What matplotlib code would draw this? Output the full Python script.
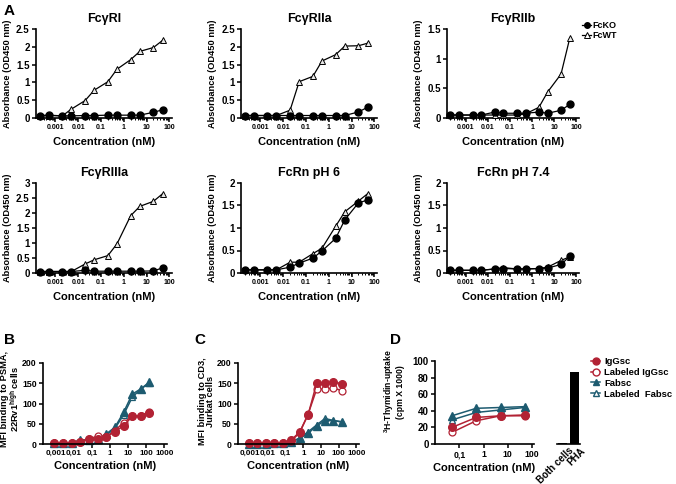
import numpy as np
import matplotlib
matplotlib.use("Agg")
import matplotlib.pyplot as plt
from matplotlib.ticker import LogLocator, NullFormatter, FixedLocator
from matplotlib.lines import Line2D
from matplotlib.transforms import ScaledTranslation

plt.rcParams['font.family'] = ['Liberation Sans', 'DejaVu Sans']
plt.rcParams['font.weight'] = 'bold'
plt.rcParams['axes.labelweight'] = 'bold'
plt.rcParams['mathtext.default'] = 'regular'

# ---- panel A data (OD450) ----
conc_a = [0.0002, 0.0005, 0.002, 0.005, 0.02, 0.05, 0.2, 0.5, 2, 5, 20, 50]
fcgr1_ko = [0.07, 0.08, 0.06, 0.06, 0.07, 0.07, 0.08, 0.08, 0.08, 0.08, 0.16, 0.23]
fcgr1_wt = [0.06, 0.07, 0.06, 0.25, 0.49, 0.78, 1.02, 1.37, 1.64, 1.87, 1.98, 2.18]
fcgr2a_ko = [0.07, 0.07, 0.07, 0.07, 0.07, 0.07, 0.07, 0.07, 0.07, 0.07, 0.17, 0.30]
fcgr2a_wt = [0.07, 0.07, 0.07, 0.07, 0.22, 1.02, 1.17, 1.60, 1.78, 2.02, 2.03, 2.10]
fcgr2b_ko = [0.05, 0.05, 0.05, 0.05, 0.10, 0.08, 0.08, 0.08, 0.10, 0.08, 0.13, 0.23]
fcgr2b_wt = [0.05, 0.05, 0.05, 0.05, 0.05, 0.05, 0.05, 0.07, 0.18, 0.44, 0.74, 1.35]
fcgr3a_ko = [0.05, 0.05, 0.05, 0.05, 0.09, 0.06, 0.06, 0.06, 0.06, 0.06, 0.07, 0.17]
fcgr3a_wt = [0.05, 0.05, 0.05, 0.05, 0.30, 0.44, 0.58, 0.97, 1.91, 2.22, 2.39, 2.64]
fcrn6_ko = [0.07, 0.07, 0.07, 0.07, 0.13, 0.22, 0.33, 0.49, 0.77, 1.18, 1.56, 1.62]
fcrn6_wt = [0.07, 0.07, 0.07, 0.07, 0.24, 0.24, 0.43, 0.55, 1.04, 1.36, 1.60, 1.76]
fcrn74_ko = [0.06, 0.06, 0.06, 0.06, 0.09, 0.10, 0.09, 0.09, 0.10, 0.11, 0.19, 0.37]
fcrn74_wt = [0.06, 0.06, 0.06, 0.06, 0.09, 0.12, 0.09, 0.09, 0.10, 0.13, 0.28, 0.36]

# ---- panels B, C (MFI) ----
conc_bc = [0.00085, 0.0025, 0.0076, 0.023, 0.069, 0.21, 0.62, 1.85, 5.6, 16.7, 50, 150]
psma_igg = [3, 3, 3, 6, 12, 12, 18, 30, 45, 68, 70, 76]
psma_igg_lab = [3, 3, 3, 6, 12, 20, 18, 33, 53, 68, 70, 80]
psma_fab = [3, 3, 3, 10, 10, 12, 25, 41, 78, 123, 136, 153]
psma_fab_lab = [3, 3, 3, 8, 10, 12, 22, 38, 72, 115, 136, 150]
cd3_igg = [2, 2, 2, 3, 3, 10, 30, 72, 150, 150, 153, 149]
cd3_igg_lab = [2, 2, 2, 3, 3, 8, 28, 74, 135, 136, 138, 132]
cd3_fab = [1, 1, 1, 2, 2, 5, 14, 26, 45, 57, 58, 54]
cd3_fab_lab = [1, 1, 1, 2, 2, 5, 15, 30, 47, 63, 58, 55]

# ---- panel D (thymidin uptake) ----
conc_d = [0.05, 0.5, 5, 50]
thy_igg = [20, 32, 34, 35]
thy_igg_lab = [14, 28, 34, 34]
thy_fab = [34, 43, 44, 45]
thy_fab_lab = [29, 38, 41, 44]
bar_labels = ['Both cells', 'PHA']
bar_values = [1, 87]

RED = '#b22234'
TEAL = '#1d5b70'

W, H = 676, 484
fig = plt.figure(figsize=(W / 100, H / 100), dpi=100)


def px_axes(x0, x1, ytop, ybot):
    return fig.add_axes([x0 / W, 1 - ybot / H, (x1 - x0) / W, (ybot - ytop) / H])


def style(ax, xfs, yfs):
    for s in ['top', 'right']:
        ax.spines[s].set_visible(False)
    for s in ['left', 'bottom']:
        ax.spines[s].set_linewidth(1.2)
    ax.tick_params(which='major', direction='out', length=3, width=1.1)
    ax.tick_params(which='minor', direction='out', length=1.6, width=0.7)
    ax.tick_params(axis='x', labelsize=xfs, pad=1.5)
    ax.tick_params(axis='y', labelsize=yfs, pad=1.5)


def logx(ax, lo, hi, ticks, labels):
    ax.set_xscale('log')
    ax.set_xlim(lo, hi)
    ax.xaxis.set_major_locator(FixedLocator(ticks))
    ax.set_xticklabels(labels)
    ax.xaxis.set_minor_locator(LogLocator(base=10, subs=np.arange(2, 10)))
    ax.xaxis.set_minor_formatter(NullFormatter())


a_panels = [
    ('FcγRI', fcgr1_ko, fcgr1_wt, 2.5, (36, 172, 29, 118)),
    ('FcγRIIa', fcgr2a_ko, fcgr2a_wt, 2.5, (241, 377, 29, 118)),
    ('FcγRIIb', fcgr2b_ko, fcgr2b_wt, 1.5, (447, 579, 29, 118)),
    ('FcγRIIIa', fcgr3a_ko, fcgr3a_wt, 3.0, (36, 172, 183, 273)),
    ('FcRn pH 6', fcrn6_ko, fcrn6_wt, 2.0, (241, 377, 183, 273)),
    ('FcRn pH 7.4', fcrn74_ko, fcrn74_wt, 2.0, (447, 579, 183, 273)),
]
a_ticks = [0.001, 0.01, 0.1, 1, 10, 100]
a_ticklabels = ['0.001', '0.01', '0.1', '1', '10', '100']

for i, (title, ko, wt, ymax, box) in enumerate(a_panels):
    ax = px_axes(*box)
    style(ax, 5, 7)
    ax.plot(conc_a, wt, color='black', lw=0.9, marker='^', ms=5, mfc='#e8e8e8',
            mec='black', mew=0.7, clip_on=False, zorder=3)
    ax.plot(conc_a, ko, color='black', lw=0.9, marker='o', ms=5, mfc='black',
            mec='black', clip_on=False, zorder=4)
    logx(ax, 1.4e-4, 130, a_ticks, a_ticklabels)
    ax.set_ylim(0, ymax)
    yt = np.arange(0, ymax + 0.01, 0.5)
    ax.set_yticks(yt)
    ax.set_yticklabels(['%g' % v for v in yt])
    ax.set_title(title, fontsize=9, fontweight='bold', pad=5)
    ax.set_xlabel('Concentration (nM)', fontsize=8, labelpad=4)
    ax.set_ylabel('Absorbance (OD450 nm)', fontsize=6.7, labelpad=3)
    if i == 2:
        h = [Line2D([], [], color='black', lw=0.9, marker='o', ms=4, mfc='black'),
             Line2D([], [], color='black', lw=0.9, marker='^', ms=4, mfc='white', mec='black', mew=0.7)]
        fig.legend(h, ['FcKO', 'FcWT'], loc='upper left', bbox_to_anchor=(582 / W, 1 - 21 / H),
                   frameon=False, fontsize=6.5, handlelength=1.0, handletextpad=0.2,
                   labelspacing=0.1, borderaxespad=0, borderpad=0)

bc_ticks = [0.001, 0.01, 0.1, 1, 10, 100, 1000]
bc_ticklabels = ['0,001', '0,01', '0,1', '1', '10', '100', '1000']


def mfi_panel(box, igg, igg_lab, fab, fab_lab, ylabel, label_x, label_y):
    ax = px_axes(*box)
    style(ax, 5.8, 6.3)
    ax.plot(conc_bc, fab_lab, color=TEAL, lw=1.1, marker='^', ms=5, mfc='white', mec=TEAL, mew=0.9, clip_on=False)
    ax.plot(conc_bc, fab, color=TEAL, lw=1.1, marker='^', ms=5.5, mfc=TEAL, mec=TEAL, clip_on=False)
    ax.plot(conc_bc, igg_lab, color=RED, lw=1.1, marker='o', ms=5, mfc='white', mec=RED, mew=0.9, clip_on=False)
    ax.plot(conc_bc, igg, color=RED, lw=1.1, marker='o', ms=5.5, mfc=RED, mec=RED, clip_on=False)
    logx(ax, 2e-4, 1400, bc_ticks, bc_ticklabels)
    ax.set_ylim(0, 200)
    ax.set_yticks([0, 50, 100, 150, 200])
    ax.set_xlabel('Concentration (nM)', fontsize=8, labelpad=3)
    ax.set_ylabel(ylabel, fontsize=6.7, linespacing=0.9)
    ax.yaxis.set_label_coords(label_x, label_y)
    return ax


mfi_panel((43, 167, 363, 444), psma_igg, psma_igg_lab, psma_fab, psma_fab_lab,
          'MFI binding to PSMA,\n22Rv1$^{high}$ cells', -0.181, 0.56)
mfi_panel((238, 359, 363, 444), cd3_igg, cd3_igg_lab, cd3_fab, cd3_fab_lab,
          'MFI binding to CD3,\nJurkat cells', -0.19, 0.53)

# panel D
axd = px_axes(435, 534, 361, 444)
style(axd, 6.3, 7)
axd.plot(conc_d, thy_fab_lab, color=TEAL, lw=1.1, marker='^', ms=5, mfc='white', mec=TEAL, mew=0.9, clip_on=False)
axd.plot(conc_d, thy_fab, color=TEAL, lw=1.1, marker='^', ms=5.5, mfc=TEAL, mec=TEAL, clip_on=False)
axd.plot(conc_d, thy_igg_lab, color=RED, lw=1.1, marker='o', ms=5, mfc='white', mec=RED, mew=0.9, clip_on=False)
axd.plot(conc_d, thy_igg, color=RED, lw=1.1, marker='o', ms=5.5, mfc=RED, mec=RED, clip_on=False)
logx(axd, 0.01, 120, [0.1, 1, 10, 100], ['0,1', '1', '10', '100'])
axd.set_ylim(0, 100)
axd.set_yticks([0, 20, 40, 60, 80, 100])
axd.set_xlabel('Concentration (nM)', fontsize=8, labelpad=3)
axd.set_ylabel('$^{3}$H-Thymidin-uptake\n(cpm X 1000)', fontsize=6.2, linespacing=1.0)
axd.yaxis.set_label_coords(-0.3, 0.63)

axb = px_axes(557, 580, 361, 444)
axb.bar([0, 1], bar_values, width=0.75, color='black')
axb.set_xlim(-0.5, 1.5)
axb.set_ylim(0, 100)
for s in ['top', 'right', 'left']:
    axb.spines[s].set_visible(False)
axb.spines['bottom'].set_linewidth(1.2)
axb.set_yticks([])
axb.set_xticks([0, 1])
axb.set_xticklabels(bar_labels, rotation=45, ha='right', va='top', rotation_mode='anchor', fontsize=7)
axb.tick_params(axis='x', length=0, pad=1)
shift = ScaledTranslation(6 / 100, 0, fig.dpi_scale_trans)
for t in axb.get_xticklabels():
    t.set_transform(t.get_transform() + shift)

lh = [Line2D([], [], color=RED, lw=1.1, marker='o', ms=5, mfc=RED, mec=RED),
      Line2D([], [], color=RED, lw=1.1, marker='o', ms=5, mfc='white', mec=RED),
      Line2D([], [], color=TEAL, lw=1.1, marker='^', ms=5, mfc=TEAL, mec=TEAL),
      Line2D([], [], color=TEAL, lw=1.1, marker='^', ms=5, mfc='white', mec=TEAL)]
fig.legend(lh, ['IgGsc', 'Labeled IgGsc', 'Fabsc', 'Labeled  Fabsc'], loc='upper left',
           bbox_to_anchor=(591 / W, 1 - 357 / H), frameon=False, fontsize=6.8,
           handlelength=1.0, handletextpad=0.4, labelspacing=0.2, borderaxespad=0, borderpad=0)

for lab, x, y in [('A', 4, 4), ('B', 4, 333), ('C', 194, 333), ('D', 390, 333)]:
    fig.text(x / W, 1 - y / H, lab, fontsize=11, fontweight='bold', va='top', ha='left')

fig.savefig('out.png', dpi=100)
